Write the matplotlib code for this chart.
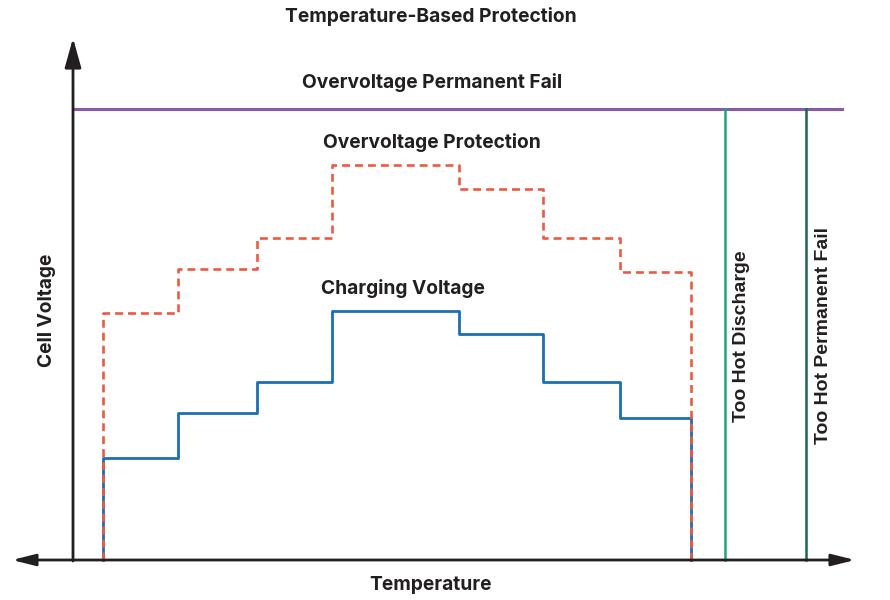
import numpy as np
from matplotlib import pyplot as plt

# temperature band starts (arbitrary units, origin at the axis crossing)
temp_edges = [30, 105, 184, 259, 386, 470, 547]
charge_end = 618
ovp_end = 618
# charging voltage and overvoltage protection levels for each band
charge_levels = [102, 147, 178, 249, 226, 178, 142]
ovp_levels = [247, 291, 322, 395, 371, 322, 288]
ov_perm_fail = 451
too_hot_discharge = 652
too_hot_perm_fail = 733

ink = '#231f20'
plt.rcParams['font.family'] = ['Inter', 'DejaVu Sans']

fig = plt.figure(figsize=(8.9, 6), dpi=100)
ax = fig.add_axes([0, 0, 1, 1])
ax.set_xlim(-73, 817)
ax.set_ylim(-40, 560)
ax.axis('off')


def staircase(edges, end, levels):
    e = np.array(list(edges) + [end])
    xs = np.repeat(e, 2)
    ys = np.concatenate([[0], np.repeat(levels, 2), [0]])
    return xs, ys


# axes with arrows
ax.annotate('', xy=(0, 522), xytext=(0, -1),
            arrowprops=dict(arrowstyle='-|>,head_length=1.8,head_width=0.5',
                            lw=2, color=ink, mutation_scale=10, shrinkA=0, shrinkB=0))
ax.annotate('', xy=(-61, 0), xytext=(782, 0),
            arrowprops=dict(arrowstyle='<|-|>,head_length=1.4,head_width=0.35',
                            lw=2, color=ink, mutation_scale=10, shrinkA=0, shrinkB=0))

# limits
ax.plot([1, 769], [ov_perm_fail, ov_perm_fail], color='#8b5aa6', lw=2.2)
ax.plot([too_hot_discharge] * 2, [0, ov_perm_fail], color='#1aa879', lw=1.8)
ax.plot([too_hot_perm_fail] * 2, [0, ov_perm_fail], color='#16694a', lw=1.8)

# charging voltage and overvoltage protection staircases
xs, ys = staircase(temp_edges, charge_end, charge_levels)
ax.plot(xs, ys, color='#1d6fb3', lw=2)
xs, ys = staircase(temp_edges, ovp_end, ovp_levels)
ax.plot(xs, ys, color='#ec5a43', lw=1.9, dashes=(3.0, 1.9))

bold = dict(fontweight='bold', color=ink, ha='center', va='center')
ax.text(358, 543, 'Temperature-Based Protection', fontsize=13.8, **bold)
ax.text(359, 477, 'Overvoltage Permanent Fail', fontsize=13.8, **bold)
ax.text(359, 417, 'Overvoltage Protection', fontsize=13.8, **bold)
ax.text(330, 272, 'Charging Voltage', fontsize=13.8, **bold)
ax.text(358, -25, 'Temperature', fontsize=13.8, **bold)
ax.text(-26, 250, 'Cell Voltage', fontsize=13.8, rotation=90, **bold)
ax.text(669, 224, 'Too Hot Discharge', fontsize=14, rotation=90,
        family='Liberation Sans', **bold)
ax.text(750, 225, 'Too Hot Permanent Fail', fontsize=14, rotation=90,
        family='Liberation Sans', **bold)

fig.savefig('out.png', dpi=100)
